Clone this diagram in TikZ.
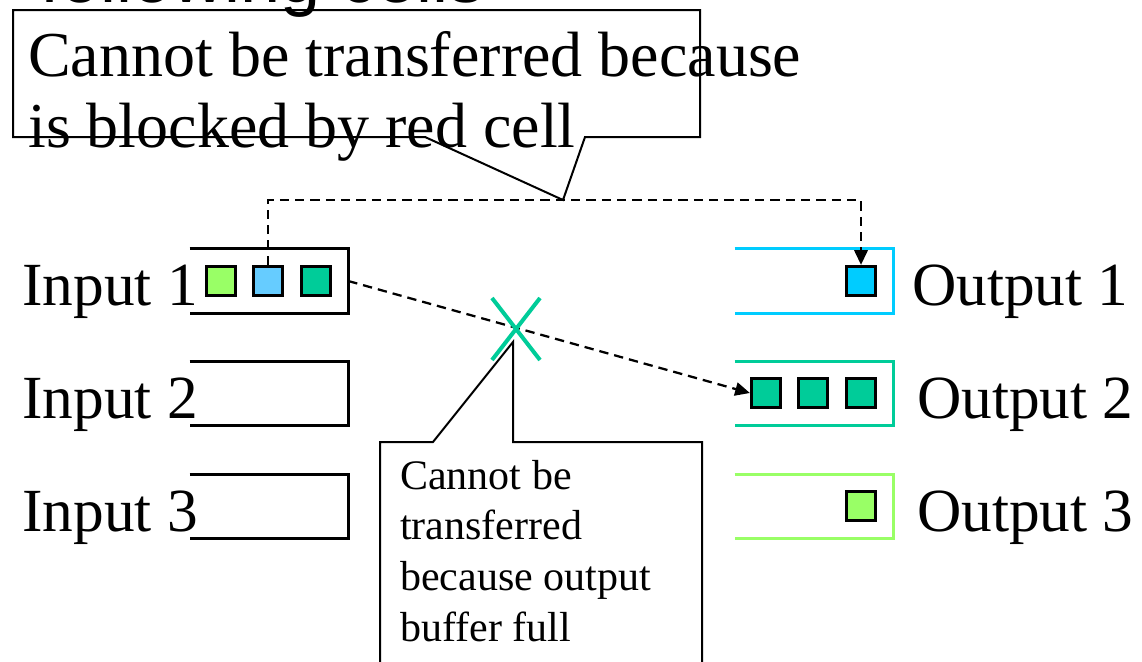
\documentclass[tikz,border=0pt]{standalone}
\usepackage{fontspec}
\setmainfont{Liberation Serif}
\newfontfamily\headsans{Liberation Sans}
\usetikzlibrary{arrows.meta}
\definecolor{cellgreen}{HTML}{99FF66}
\definecolor{cellblue}{HTML}{66CCFF}
\definecolor{cellcyan}{HTML}{00CCFF}
\definecolor{cellteal}{HTML}{00CC99}
\begin{document}
\begin{tikzpicture}[x=0.75pt,y=-0.75pt,
  queue/.style={minimum width=118.5pt, minimum height=48pt, inner sep=0pt, draw=none},
  bracket/.style={line width=2.5pt, line join=miter},
  cell/.style={draw=black, line width=2.2pt, minimum size=22pt, inner sep=0pt},
  biglabel/.style={font=\fontsize{46}{50}\selectfont, inner sep=0pt, anchor=base west},
  note/.style={line width=1.5pt, line join=miter},
  flow/.style={line width=1.7pt, dash pattern=on 7pt off 4.5pt, -{Triangle[length=11pt,width=10pt]}},
  cross/.style={line width=3pt, draw=cellteal}]
\useasboundingbox (0,0) rectangle (1142,661);

% heading cut by the page edge
\node[anchor=base west, inner sep=0pt, font=\headsans\fontsize{54}{60}\selectfont] (heading) at (40,2) {following cells};

% input queues (open on the left)
\node[queue] (in1) at (269,281) {};
\node[queue] (in2) at (269,393.5) {};
\node[queue] (in3) at (269,506.5) {};
\foreach \q in {in1,in2,in3}
  \draw[bracket] (\q.north west) -- (\q.north east) -- (\q.south east) -- (\q.south west);

% output queues
\node[queue] (out1) at (814,281) {};
\node[queue] (out2) at (814,393.5) {};
\node[queue] (out3) at (814,506.5) {};
\draw[bracket, cellcyan] (out1.north west) -- (out1.north east) -- (out1.south east) -- (out1.south west);
\draw[bracket, cellteal] (out2.north west) -- (out2.north east) -- (out2.south east) -- (out2.south west);
\draw[bracket, cellgreen] (out3.north west) -- (out3.north east) -- (out3.south east) -- (out3.south west);

% cells
\node[cell, fill=cellgreen] (in1a) at (221,281) {};
\node[cell, fill=cellblue]  (in1b) at (268,281) {};
\node[cell, fill=cellteal]  (in1c) at (316,281) {};
\node[cell, fill=cellcyan]  (out1a) at (861,281) {};
\node[cell, fill=cellteal]  (out2a) at (766,393) {};
\node[cell, fill=cellteal]  (out2b) at (813,393) {};
\node[cell, fill=cellteal]  (out2c) at (861,393) {};
\node[cell, fill=cellgreen] (out3a) at (861,506) {};

% labels
\node[biglabel] (in1lab) at (22,305) {Input 1};
\node[biglabel] (in2lab) at (22,418) {Input 2};
\node[biglabel] (in3lab) at (22,531) {Input 3};
\node[biglabel] (out1lab) at (912,305) {Output 1};
\node[biglabel] (out2lab) at (917,418) {Output 2};
\node[biglabel] (out3lab) at (917,531) {Output 3};

% transfers
\coordinate (busy) at (563,200);
\draw[flow] (in1b.north) -- (in1b.north |- busy) -- (out1a.north |- busy) -- (out1a.north);
\draw[flow] (in1.east) -- (out2a.west);

% callouts (the base anchor of a multi-line node sits on its last line)
\draw[note] (425,137) -- (13,137) -- (13,10) -- (700,10) -- (700,137) -- (585,137) -- (busy) -- cycle;
\node[anchor=base west, inner sep=0pt, align=left, font=\fontsize{48}{53}\selectfont] (blockednote) at (28,147)
  {Cannot be transferred because\\is blocked by red cell};

\coordinate (xtip) at (513,342);
\draw[note] (433,442) -- (380,442) -- (380,680) -- (702,680) -- (702,442) -- (513,442) -- (xtip) -- cycle;
\node[anchor=base west, inner sep=0pt, align=left, font=\fontsize{31.5}{37.9}\selectfont] (fullnote) at (400,641)
  {Cannot be\\transferred\\because output\\buffer full};

% blocked transfer mark
\coordinate (xmark) at (516,329);
\draw[cross] ([shift={(-24,-31)}]xmark) -- ([shift={(24,31)}]xmark);
\draw[cross] ([shift={(24,-31)}]xmark) -- ([shift={(-24,31)}]xmark);
\end{tikzpicture}
\end{document}
